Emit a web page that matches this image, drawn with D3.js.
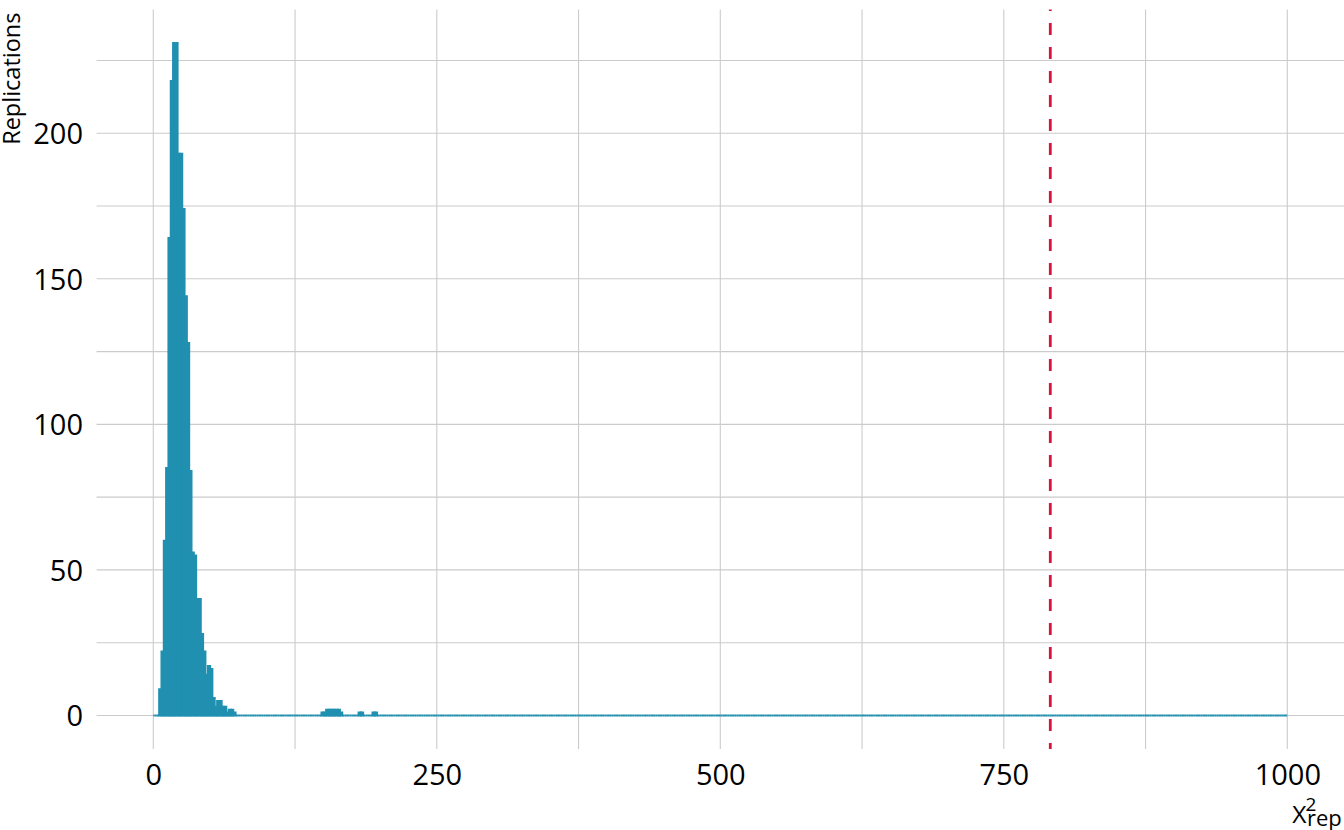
<!DOCTYPE html>
<html>
<head>
<meta charset="utf-8">
<script src="https://cdn.jsdelivr.net/npm/d3@7"></script>
<style>
  html, body { margin: 0; padding: 0; background: #ffffff; }
  text { font-family: "Open Sans", "Noto Sans", sans-serif; fill: #000; }
</style>
</head>
<body>
<svg id="chart" width="1344" height="830"></svg>
<script>
// ---------------- data ----------------
// histogram of replicated chi-square statistics, bins centred on multiples of binWidth
const xRange = [0, 1000];
const binCount = 490;                       // bins over the x range
// counts of the first bins (index 0..35)
const leadCounts = [0, 0, 0, 9, 22, 60, 85, 164, 218, 231, 231, 193, 193, 174, 144, 128,
                    84, 56, 55, 40, 40, 28, 22, 14, 17, 16, 6, 3, 5, 5, 3, 3, 1, 2, 2, 1];
// isolated non-empty bins further right (bin index, count); every other bin is empty
const outlierBins   = [73, 74, 75, 76, 77, 78, 79, 80, 81, 89, 90, 95, 96];
const outlierCounts = [1, 1, 2, 2, 2, 2, 2, 2, 1, 1, 1, 1, 1];
const observedChi2 = 791;                   // red dashed reference line
const xTicks = [0, 250, 500, 750, 1000];
const xMinorTicks = [125, 375, 625, 875];
const yTicks = [0, 50, 100, 150, 200];
const yMinorTicks = [25, 75, 125, 175, 225];
const yTitle = "Replications";

// ---------------- layout ----------------
const W = 1344, H = 830;
const panel = { left: 96.6, right: 1344, top: 9.4, bottom: 749.1 };
const barColor = "#2190b0";
const lineColor = "#d9143c";
const gridColor = "#cbcbcb";

const binWidth = (xRange[1] - xRange[0]) / (binCount - 1);
const countOf = i => {
  if (i < leadCounts.length) return leadCounts[i];
  const j = outlierBins.indexOf(i);
  return j >= 0 ? outlierCounts[j] : 0;
};
const bins = d3.range(binCount).map(i => ({
  x0: Math.max(xRange[0], (i - 0.5) * binWidth),
  x1: Math.min(xRange[1], (i + 0.5) * binWidth),
  n: countOf(i)
}));
const maxCount = d3.max(bins, d => d.n);

const xSpan = xRange[1] - xRange[0];
const x = d3.scaleLinear()
  .domain([xRange[0] - 0.05 * xSpan, xRange[1] + 0.05 * xSpan])
  .range([panel.left, panel.right]);
const y = d3.scaleLinear()
  .domain([-0.05 * maxCount, 1.05 * maxCount])
  .range([panel.bottom, panel.top]);

const svg = d3.select("#chart");

// grid
const grid = svg.append("g").attr("stroke", gridColor).attr("stroke-width", 1.1);
grid.selectAll("line.h").data(yTicks.concat(yMinorTicks)).join("line")
  .attr("x1", panel.left).attr("x2", panel.right)
  .attr("y1", d => y(d)).attr("y2", d => y(d));
grid.selectAll("line.v").data(xTicks.concat(xMinorTicks)).join("line")
  .attr("y1", panel.top).attr("y2", panel.bottom)
  .attr("x1", d => x(d)).attr("x2", d => x(d));

// bars (drawn as outlined paths so that empty bins show as a baseline)
svg.append("g").selectAll("path").data(bins).join("path")
  .attr("d", d => `M${x(d.x0)},${y(0)}V${y(d.n)}H${x(d.x1)}V${y(0)}Z`)
  .attr("fill", barColor)
  .attr("stroke", barColor)
  .attr("stroke-width", 1.9)
  .attr("stroke-linejoin", "miter");

// observed statistic
svg.append("line")
  .attr("x1", x(observedChi2)).attr("x2", x(observedChi2))
  .attr("y1", panel.bottom).attr("y2", panel.top)
  .attr("stroke", lineColor)
  .attr("stroke-width", 2.8)
  .attr("stroke-dasharray", "12 12")
  .attr("stroke-dashoffset", 5.8);

// axes (labels only, ggplot minimal style)
const xAxis = d3.axisBottom(x).tickValues(xTicks).tickFormat(d3.format("d")).tickSize(0).tickPadding(0);
const gx = svg.append("g").attr("transform", `translate(0,${784.5 - 22})`).call(xAxis);
gx.select(".domain").remove();
gx.selectAll("text").attr("font-size", 29).attr("dy", "0.76em").attr("fill", "#000")
  .style("font-family", '"Open Sans", sans-serif');

const yAxis = d3.axisLeft(y).tickValues(yTicks).tickFormat(d3.format("d")).tickSize(0).tickPadding(0);
const gy = svg.append("g").attr("transform", `translate(83,0)`).call(yAxis);
gy.select(".domain").remove();
gy.selectAll("text").attr("font-size", 29).attr("dy", "0.36em").attr("fill", "#000")
  .style("font-family", '"Open Sans", sans-serif');

// y title (top aligned)
svg.append("text")
  .attr("transform", `translate(19.5,12.5) rotate(-90)`)
  .attr("text-anchor", "end")
  .attr("font-size", 23.5)
  .text(yTitle);

// x title: chi^2_rep at bottom right
svg.append("text")
  .attr("x", 1307).attr("y", 826)
  .attr("text-anchor", "start").attr("font-size", 22).text("rep");
svg.append("text")
  .attr("x", 1305.5).attr("y", 811)
  .attr("text-anchor", "start").attr("font-size", 19).text("2");
svg.append("text")
  .attr("x", 1306.5).attr("y", 822.7)
  .attr("text-anchor", "end").attr("font-size", 24.5).text("Χ");
</script>
</body>
</html>
